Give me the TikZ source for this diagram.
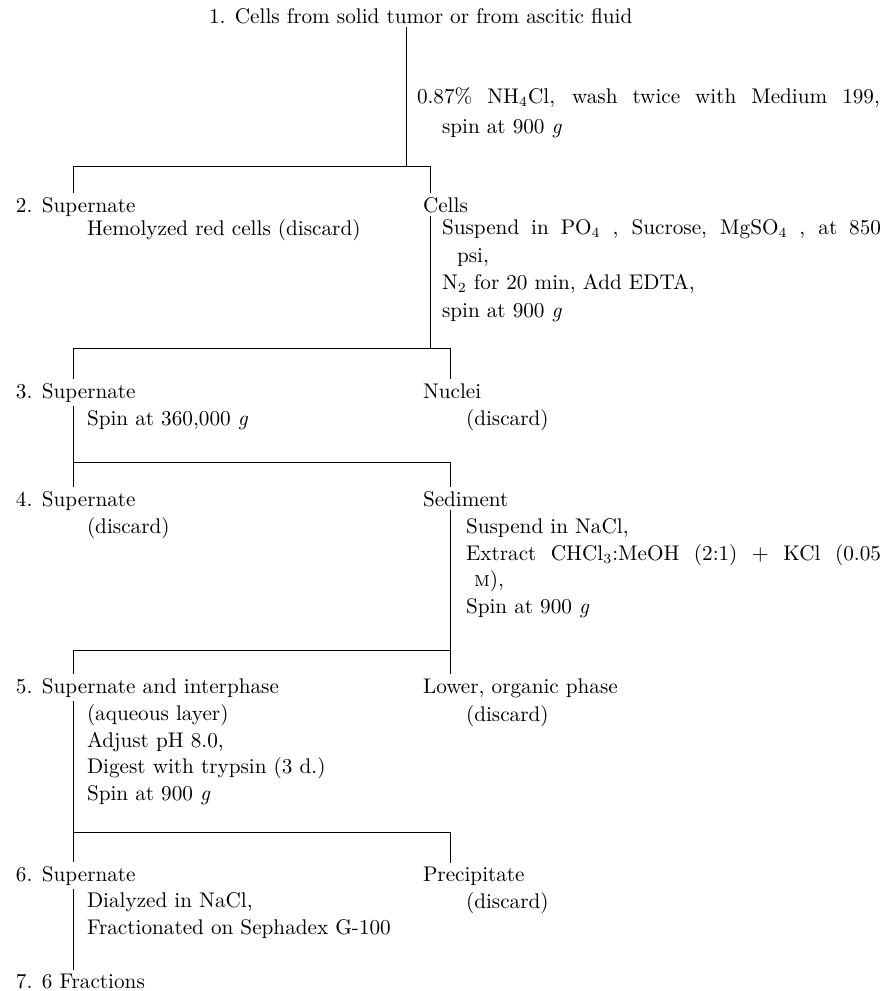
\documentclass[tikz,border=0pt]{standalone}
\usepackage{fontspec}
\usetikzlibrary{calc}
\begin{document}
\begin{tikzpicture}[x=0.5pt,y=-0.5pt]
        \tikzstyle{entry}=[anchor=base west,inner sep=0pt,outer sep=2pt,align=left,font=\fontsize{10.6pt}{13.25pt}\selectfont]
        \tikzstyle{link}=[line width=0.5pt]
        \useasboundingbox (0,0) rectangle (879,991);
        % headings of each step
        \node[entry] (s_1) at (205,23) {1. Cells from solid tumor or from ascitic fluid};
        \node[entry] (s_2) at (12,212) {2. Supernate};
        \node[entry] (s_3) at (12,398) {3. Supernate};
        \node[entry] (s_4) at (12,506) {4. Supernate};
        \node[entry] (s_5) at (12,693) {5. Supernate and interphase};
        \node[entry] (s_6) at (12,881) {6. Supernate};
        \node[entry] (s_7) at (12,988) {7. 6 Fractions};
        \node[entry] (r_2) at (419,212) {Cells};
        \node[entry] (r_3) at (419,398) {Nuclei};
        \node[entry] (r_4) at (419,506) {Sediment};
        \node[entry] (r_5) at (419,693) {Lower, organic phase};
        \node[entry] (r_6) at (419,881) {Precipitate};
        % treatments and discards (multi-line ones sit on their last line)
        \node[entry] (w_1) at (413,133) {\makebox[231.5pt][s]{0.87\% NH$_4$Cl, wash twice with Medium 199,}\\[1.5pt]\hspace*{12.5pt}spin at 900 \textit{g}};
        \node[entry] (d_2) at (83,235) {Hemolyzed red cells (discard)};
        \node[entry] (w_2) at (438,317) {\makebox[219.5pt][s]{Suspend in PO$_4$ , Sucrose, MgSO$_4$ , at 850}\\[0.5pt]\hspace*{7.5pt}psi,\\[0.5pt]N$_2$ for 20 min, Add EDTA,\\[0.5pt]spin at 900 \textit{g}};
        \node[entry] (w_3) at (83,425) {Spin at 360,000 \textit{g}};
        \node[entry] (d_3) at (462,425) {(discard)};
        \node[entry] (d_4) at (83,533) {(discard)};
        \node[entry] (w_4) at (462,613) {Suspend in NaCl,\\\makebox[207.5pt][s]{Extract CHCl$_3$:MeOH (2:1) $+$ KCl (0.05}\\\hspace*{4pt}\textsc{m}),\\Spin at 900 \textit{g}};
        \node[entry] (w_5) at (83,800) {(aqueous layer)\\Adjust pH 8.0,\\Digest with trypsin (3 d.)\\Spin at 900 \textit{g}};
        \node[entry] (d_5) at (462,721) {(discard)};
        \node[entry] (w_6) at (83,934) {Dialyzed in NaCl,\\Fractionated on Sephadex G-100};
        \node[entry] (d_6) at (462,908) {(discard)};
        % bracket corners
        \coordinate (b_1) at (406,166);
        \coordinate (l_1) at (73,166);
        \coordinate (q_1) at (430,166);
        \coordinate (l_2) at (73,348);
        \coordinate (q_2) at (450,348);
        \coordinate (l_3) at (73,462);
        \coordinate (q_3) at (450,462);
        \coordinate (l_4) at (73,650);
        \coordinate (q_4) at (450,650);
        \coordinate (l_5) at (73,832);
        \coordinate (q_5) at (450,832);
        \draw[link] (s_1.south -| b_1) -- (b_1);
        \draw[link] (l_1 |- s_2.north) -- (l_1) -- (q_1) -- (q_1 |- r_2.north);
        \draw[link] (r_2.south -| q_1) -- (q_1 |- l_2);
        \draw[link] (l_2 |- s_3.north) -- (l_2) -- (q_2) -- (q_2 |- r_3.north);
        \draw[link] (s_3.south -| l_3) -- (l_3);
        \draw[link] (l_3 |- s_4.north) -- (l_3) -- (q_3) -- (q_3 |- r_4.north);
        \draw[link] (r_4.south -| q_4) -- (q_4);
        \draw[link] (l_4 |- s_5.north) -- (l_4) -- (q_4) -- (q_4 |- r_5.north);
        \draw[link] (s_5.south -| l_5) -- (l_5);
        \draw[link] (l_5 |- s_6.north) -- (l_5) -- (q_5) -- (q_5 |- r_6.north);
        \draw[link] (s_6.south -| l_5) -- (s_7.north -| l_5);
\end{tikzpicture}
\end{document}
